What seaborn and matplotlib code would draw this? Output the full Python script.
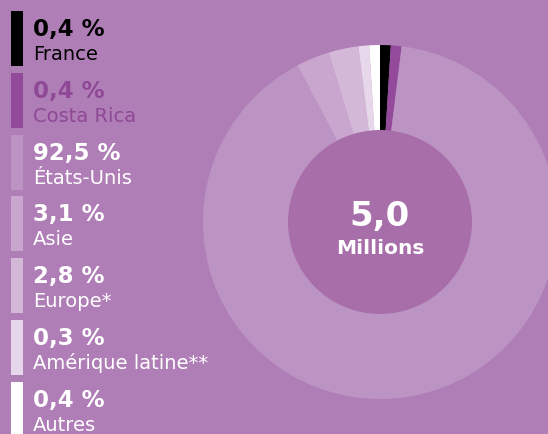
import numpy as np
import matplotlib
matplotlib.use("Agg")
import matplotlib.pyplot as plt
from matplotlib.patches import Rectangle, Circle
import seaborn as sns

# Data
regions = ["France", "Costa Rica", "États-Unis", "Asie", "Europe*",
           "Amérique latine**", "Autres"]
shares = [0.4, 0.4, 92.5, 3.1, 2.8, 0.3, 0.4]
share_labels = ["0,4 %", "0,4 %", "92,5 %", "3,1 %", "2,8 %", "0,3 %", "0,4 %"]
total_label = "5,0"
total_unit = "Millions"

colors = ["#000000", "#944A9B", "#BC94C4", "#C9A6CD", "#D3B8D8", "#E6D8EA", "#FFFFFF"]
text_colors = ["#000000", "#8E4896", "white", "white", "white", "white", "white"]
bg = "#B07EB6"
inner = "#A76EAA"

sns.set_theme(style="white")
plt.rcParams["font.family"] = ["DejaVu Sans"]

W, H = 548, 435
fig = plt.figure(figsize=(W / 100, H / 100), dpi=100, facecolor=bg)
ax = fig.add_axes([0, 0, 1, 1])
ax.set_facecolor(bg)

# small slices are shown with a minimum width of 1 %
display = np.maximum(shares, 1.0)

cx, cy, r_out, r_in = 380, H - 223, 177, 92
ax.pie(display, colors=colors, startangle=90, counterclock=False,
       center=(cx, cy), radius=r_out, frame=True,
       wedgeprops=dict(linewidth=0, antialiased=True))
ax.add_patch(Circle((cx, cy), r_in, facecolor=inner, edgecolor="none", zorder=5))
ax.text(cx, H - 226, total_label, ha="center", va="baseline", color="white",
        fontsize=24.5, fontweight="bold", zorder=6)
ax.text(cx, H - 254, total_unit, ha="center", va="baseline", color="white",
        fontsize=14.5, fontweight="bold", zorder=6)

# legend on the left
step = 61.8
for i, (name, lab) in enumerate(zip(regions, share_labels)):
    top = 12 + i * step
    ax.add_patch(Rectangle((11, H - top - 55), 12, 55, facecolor=colors[i],
                           edgecolor="none"))
    ax.text(33, H - top - 24, lab, ha="left", va="baseline", color=text_colors[i],
            fontsize=16.5, fontweight="bold")
    ax.text(33, H - top - 48, name, ha="left", va="baseline", color=text_colors[i],
            fontsize=14)

ax.set_xlim(0, W)
ax.set_ylim(0, H)
ax.set_aspect("equal")
ax.axis("off")

fig.savefig("out.png", dpi=100, facecolor=bg)
